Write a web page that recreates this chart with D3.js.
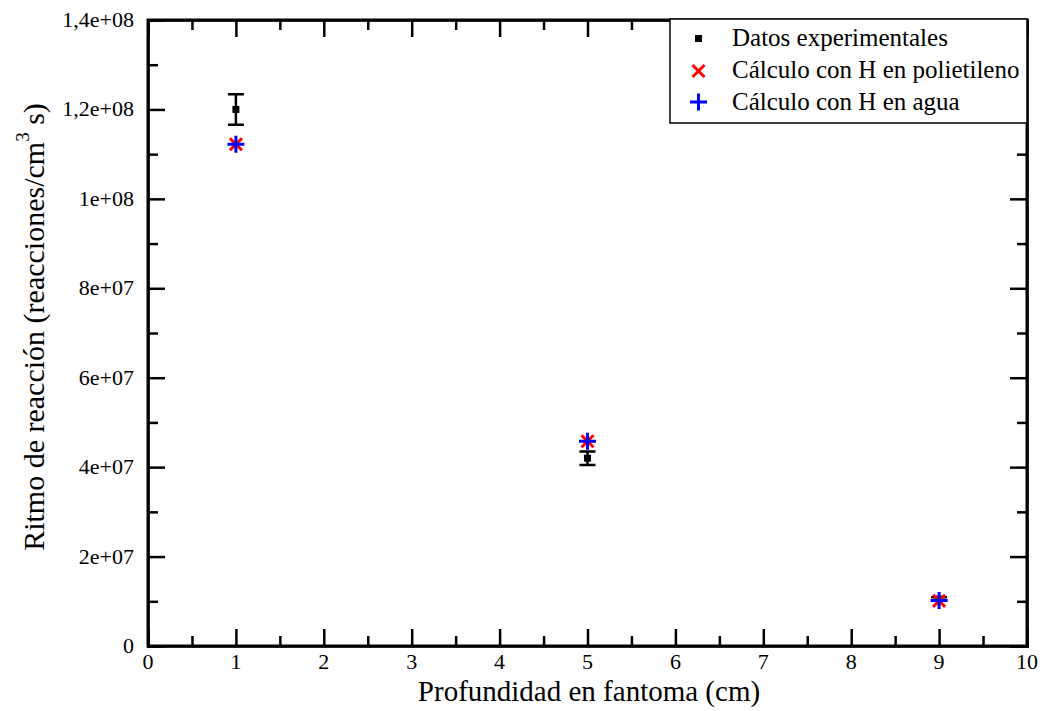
<!DOCTYPE html>
<html>
<head>
<meta charset="utf-8">
<script src="https://cdn.jsdelivr.net/npm/d3@7"></script>
</head>
<body style="margin:0">
<svg id="chart" width="1044" height="711" font-family="Liberation Serif"></svg>
<script>
// data
const depth      = [1, 5, 9];
const expValues  = [1.2e8, 4.2e7, 1.05e7];
const expErrors  = [3.4e6, 1.5e6, 4e5];
const polyValues = [1.122e8, 4.58e7, 1.01e7];
const waterValues = [1.122e8, 4.58e7, 1.02e7];
const xTicks     = [0, 1, 2, 3, 4, 5, 6, 7, 8, 9, 10];
const yTicks     = [0, 2e7, 4e7, 6e7, 8e7, 1e8, 1.2e8, 1.4e8];
const yTickLabels = ['0', '2e+07', '4e+07', '6e+07', '8e+07', '1e+08', '1,2e+08', '1,4e+08'];
const legendLabels = ['Datos experimentales', 'Cálculo con H en polietileno', 'Cálculo con H en agua'];

const width = 1044, height = 711;
const margin = { left: 148, right: 17, top: 20, bottom: 65 };
const serif = '"Liberation Serif"';

const svg = d3.select('#chart');

const x = d3.scaleLinear().domain([0, 10]).range([margin.left, width - margin.right]);
const y = d3.scaleLinear().domain([0, 1.4e8]).range([height - margin.bottom, margin.top]);

const major = 17, minor = 10;
const fmt = (d) => yTickLabels[yTicks.indexOf(d)];

// axes, ticks inside on every side
const xMinor = d3.range(0, 10.01, 0.5);
const yMinor = d3.range(0, 1.41e8, 1e7);

const axB = svg.append('g').attr('transform', `translate(0,${y(0)})`);
axB.call(d3.axisBottom(x).tickValues(xMinor).tickSize(-minor).tickFormat(''));
axB.selectAll('.tick line').filter((d) => d % 1 === 0).attr('y2', -major);
const axT = svg.append('g').attr('transform', `translate(0,${y(1.4e8)})`);
axT.call(d3.axisTop(x).tickValues(xMinor).tickSize(-minor).tickFormat(''));
axT.selectAll('.tick line').filter((d) => d % 1 === 0).attr('y2', major);
const axL = svg.append('g').attr('transform', `translate(${x(0)},0)`);
axL.call(d3.axisLeft(y).tickValues(yMinor).tickSize(-minor).tickFormat(''));
axL.selectAll('.tick line').filter((d, i) => i % 2 === 0).attr('x2', major);
const axR = svg.append('g').attr('transform', `translate(${x(10)},0)`);
axR.call(d3.axisRight(y).tickValues(yMinor).tickSize(-minor).tickFormat(''));
axR.selectAll('.tick line').filter((d, i) => i % 2 === 0).attr('x2', -major);

svg.selectAll('.domain, .tick line')
  .attr('stroke', '#000')
  .attr('stroke-width', 2.5);
svg.selectAll('g').attr('font-family', null);

// frame
svg.append('rect')
  .attr('x', x(0)).attr('y', y(1.4e8))
  .attr('width', x(10) - x(0)).attr('height', y(0) - y(1.4e8))
  .attr('fill', 'none').attr('stroke', '#000').attr('stroke-width', 3);

// tick labels
svg.selectAll('text.xt')
  .data(xTicks)
  .enter().append('text')
  .attr('class', 'xt')
  .style('font-family', serif)
  .attr('x', (d) => x(d))
  .attr('y', y(0) + 23)
  .attr('text-anchor', 'middle')
  .attr('font-size', 22)
  .text((d) => d);

svg.selectAll('text.yt')
  .data(yTicks)
  .enter().append('text')
  .attr('class', 'yt')
  .style('font-family', serif)
  .attr('x', x(0) - 14)
  .attr('y', (d) => y(d) + 7)
  .attr('text-anchor', 'end')
  .attr('font-size', 22)
  .text(fmt);

// axis titles
svg.append('text')
  .style('font-family', serif)
  .attr('x', 589)
  .attr('y', 701)
  .attr('text-anchor', 'middle')
  .attr('font-size', 29)
  .text('Profundidad en fantoma (cm)');

const ylab = svg.append('text')
  .style('font-family', serif)
  .attr('transform', 'translate(44,327) rotate(-90)')
  .attr('text-anchor', 'middle')
  .attr('font-size', 30);
ylab.append('tspan').text('Ritmo de reacción (reacciones/cm');
ylab.append('tspan').attr('dy', -15).attr('font-size', 19).text('3');
ylab.append('tspan').attr('dy', 15).text(' s)');

// markers
const cross = (g, cx, cy, s) => g.append('path')
  .attr('d', `M${cx - s},${cy - s}L${cx + s},${cy + s}M${cx - s},${cy + s}L${cx + s},${cy - s}`)
  .attr('stroke', '#f00').attr('stroke-width', 3).attr('fill', 'none');
const plus = (g, cx, cy, s) => g.append('path')
  .attr('d', `M${cx - s},${cy}L${cx + s},${cy}M${cx},${cy - s}L${cx},${cy + s}`)
  .attr('stroke', '#00f').attr('stroke-width', 3).attr('fill', 'none');

const marks = svg.append('g');
depth.forEach((d, i) => {
  const cx = x(d);
  const lo = y(expValues[i] - expErrors[i]);
  const hi = y(expValues[i] + expErrors[i]);
  marks.append('path')
    .attr('d', `M${cx},${lo}L${cx},${hi}M${cx - 8},${lo}L${cx + 8},${lo}M${cx - 8},${hi}L${cx + 8},${hi}`)
    .attr('stroke', '#000').attr('stroke-width', 2.5).attr('fill', 'none');
  marks.append('rect')
    .attr('x', cx - 3.5).attr('y', y(expValues[i]) - 3.5)
    .attr('width', 7).attr('height', 7).attr('fill', '#000');
  cross(marks, cx, y(polyValues[i]), 6);
  plus(marks, cx, y(waterValues[i]), 8.5);
});

// legend
const leg = svg.append('g');
leg.append('rect')
  .attr('x', 670).attr('y', 19).attr('width', 357).attr('height', 104)
  .attr('fill', '#fff').attr('stroke', '#000').attr('stroke-width', 1.5);
legendLabels.forEach((t, i) => {
  const ly = 38 + i * 32;
  if (i === 0) {
    leg.append('rect').attr('x', 695).attr('y', ly - 3).attr('width', 7).attr('height', 7).attr('fill', '#000');
  } else if (i === 1) {
    cross(leg, 698.5, ly + 1, 6);
  } else {
    plus(leg, 698.5, ly, 8.5);
  }
  leg.append('text')
    .style('font-family', serif)
    .attr('x', 732).attr('y', ly + 8)
    .attr('font-size', 25)
    .text(t);
});
</script>
</body>
</html>
